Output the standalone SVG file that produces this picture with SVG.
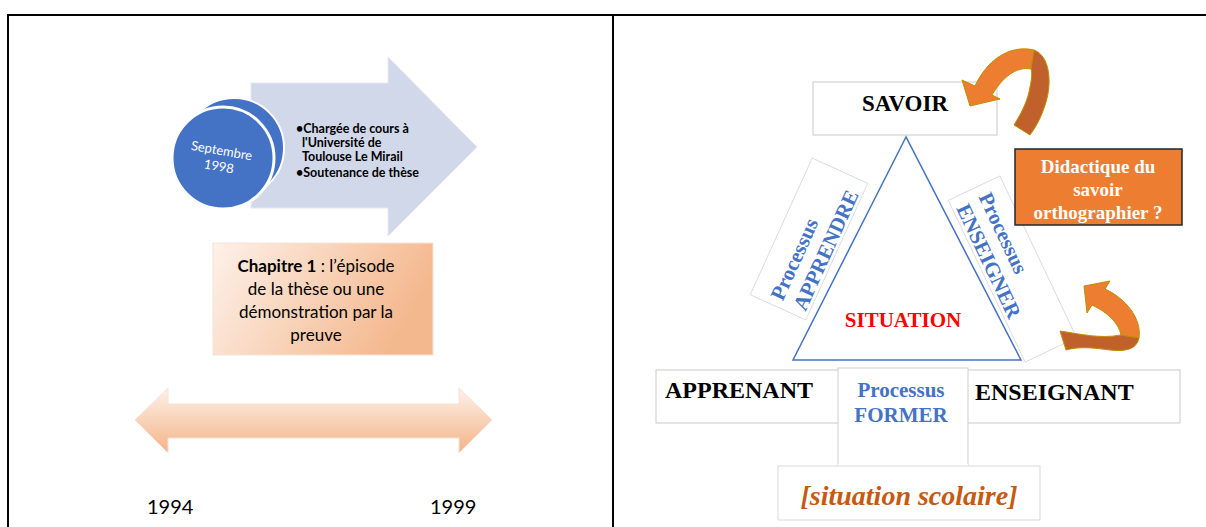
<svg xmlns="http://www.w3.org/2000/svg" width="1206" height="527" viewBox="0 0 1206 527">
<defs>
<linearGradient id="gChap" x1="0" y1="0" x2="1" y2="0.3">
<stop offset="0" stop-color="#fdf1e9"/>
<stop offset="1" stop-color="#f4b88e"/>
</linearGradient>
<linearGradient id="gDbl" x1="0" y1="0" x2="0" y2="1">
<stop offset="0" stop-color="#fdf1e9"/>
<stop offset="1" stop-color="#f4b387"/>
</linearGradient>
<style>
.frame{stroke:#000;stroke-width:2;fill:none}
.cal{font-family:Lato,"Open Sans","Liberation Sans",sans-serif}
.tnr{font-family:"Liberation Serif","Times New Roman",serif;font-weight:bold}
.blue{fill:#4472c4}
.gbox{fill:#fff;stroke:#c9c9c9;stroke-width:1}
.rbox{fill:#fff;stroke:#d6d6d6;stroke-width:0.8}
.or{fill:#ed7d31;stroke:#bf9000;stroke-width:1}
.ord{fill:#c0612b;stroke:#bf9000;stroke-width:1}
</style>
</defs>
<rect width="1206" height="527" fill="#fff"/>
<g id="frame">
<line class="frame" x1="7" y1="15" x2="1206" y2="15"/>
<line class="frame" x1="8" y1="14" x2="8" y2="527"/>
<line class="frame" x1="613" y1="14" x2="613" y2="527"/>
</g>
<g id="timeline-arrow">
<polygon points="251,83 388,83 388,57 477,147 388,236 388,208 251,208" fill="#d1d8e9" stroke="#e4e8f2" stroke-width="1"/>
</g>
<g id="date-circle">
<circle cx="234" cy="148" r="50" fill="#4472c4" stroke="#fff" stroke-width="2"/>
<circle cx="223" cy="158" r="51" fill="#4472c4" stroke="#fff" stroke-width="3"/>
<g transform="rotate(10 220 160)" class="cal" font-size="13" fill="#fff" text-anchor="middle">
<text x="220" y="155">Septembre</text>
<text x="220" y="171">1998</text>
</g>
</g>
<g id="events" class="cal" font-size="12.5" font-weight="bold" fill="#000">
<text x="296" y="133">•Chargée de cours à</text>
<text x="302" y="147">l'Université de</text>
<text x="302" y="161">Toulouse Le Mirail</text>
<text x="296" y="177">•Soutenance de thèse</text>
</g>
<g id="chapitre">
<rect x="213" y="243" width="220" height="112" fill="url(#gChap)" stroke="#f3e3d8" stroke-width="1"/>
<g class="cal" font-size="17" fill="#000" text-anchor="middle">
<text x="316" y="272"><tspan font-weight="bold">Chapitre 1</tspan> : l’épisode</text>
<text x="316" y="295">de la thèse ou une</text>
<text x="316" y="318">démonstration par la</text>
<text x="316" y="341">preuve</text>
</g>
</g>
<g id="period-arrow">
<polygon points="135,420 168,388 168,404 459,404 459,388 492,420 459,453 459,438 168,438 168,453" fill="url(#gDbl)" stroke="#f6e2d6" stroke-width="1"/>
</g>
<g id="years" class="cal" font-size="20" fill="#000">
<text x="147" y="514">1994</text>
<text x="430" y="514">1999</text>
</g>
<g id="savoir">
<rect class="gbox" x="813" y="82" width="184" height="53"/>
<text class="tnr" x="905" y="111" font-size="23" text-anchor="middle" fill="#000">SAVOIR</text>
</g>
<g id="situation">
<text class="tnr" x="903" y="327" font-size="21" text-anchor="middle" fill="#ff0000">SITUATION</text>
</g>
<g id="apprendre" transform="translate(809 239) rotate(-65.6)">
<rect class="rbox" x="-75" y="-30.5" width="150" height="61"/>
<g class="tnr blue" font-size="21">
<text x="-68" y="2">Processus</text>
<text x="-68" y="27">APPRENDRE</text>
</g>
</g>
<g id="enseigner" transform="translate(1012.5 269) rotate(64.6)">
<rect class="rbox" x="-89.5" y="-28.5" width="179" height="57"/>
<g class="tnr blue" font-size="21">
<text x="-80" y="0">Processus</text>
<text x="-79" y="25">ENSEIGNER</text>
</g>
</g>
<g id="didactique">
<rect x="1015" y="149" width="167" height="76" fill="#ed7d31" stroke="#262626" stroke-width="1.5"/>
<g class="tnr" font-size="19" fill="#fff" text-anchor="middle">
<text x="1098" y="173">Didactique du</text>
<text x="1098" y="196">savoir</text>
<text x="1098" y="219">orthographier ?</text>
</g>
</g>
<g id="apprenant-enseignant">
<rect class="gbox" x="656" y="370" width="524" height="53"/>
<text class="tnr" x="665" y="398" font-size="24" fill="#000">APPRENANT</text>
<text class="tnr" x="975" y="400" font-size="24" fill="#000">ENSEIGNANT</text>
</g>
<g id="former">
<rect x="838" y="368" width="130" height="97" fill="#fff" stroke="#d0d0d0" stroke-width="1"/>
<line x1="838" y1="465" x2="968" y2="465" stroke="#fff" stroke-width="2"/>
<g class="tnr blue" font-size="21" text-anchor="middle">
<text x="901" y="397">Processus</text>
<text x="901" y="422">FORMER</text>
</g>
</g>
<g id="situation-scolaire">
<rect x="778" y="466" width="262" height="54" fill="#fff" stroke="#d9d9d9" stroke-width="1"/>
<text class="tnr" x="909" y="505" font-size="28" font-style="italic" fill="#c55a11" text-anchor="middle">[situation scolaire]</text>
</g>
<g id="connectors">
<polygon points="906,137 793,360 1021,360" fill="none" stroke="#4472c4" stroke-width="1.5"/>
<path class="or" d="M970,106 L962,80 L975,86 C986,62 1008,44 1034,50 L1031,69 C1016,66 1002,78 992,95 L1000,99 Z"/>
<path class="ord" d="M1034,50 C1050,56 1052,82 1046,102 C1042,116 1036,127 1030,135 L1014,125 C1022,112 1028,100 1030,87 C1032,78 1032,72 1031,69 Z"/>
<path class="or" d="M1084,286 L1110,281 L1105,289 C1125,298 1142,318 1139,338 L1121,335 C1119,323 1107,312 1092,305 L1087,313 Z"/>
<path class="ord" d="M1139,338 C1137,349 1126,352 1110,350 C1095,348 1080,346 1066,350 L1060,331 C1080,334 1100,339 1121,335 Z"/>
</g>
</svg>
